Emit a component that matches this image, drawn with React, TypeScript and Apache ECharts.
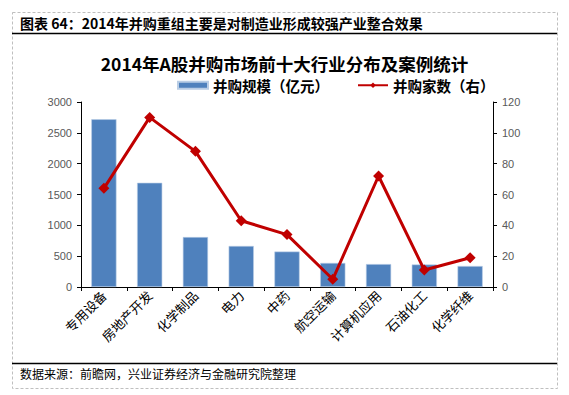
import React, { useEffect, useRef } from "react";
import * as echarts from "echarts";

const categories = ["专用设备", "房地产开发", "化学制品", "电力", "中药", "航空运输", "计算机应用", "石油化工", "化学纤维"];
const scaleValues = [2720, 1690, 810, 665, 575, 390, 372, 365, 340];
const countValues = [64, 110, 88, 43, 34, 5, 72, 11, 19];
const leftTicks = [0, 500, 1000, 1500, 2000, 2500, 3000];
const rightTicks = [0, 20, 40, 60, 80, 100, 120];

const headerText = "图表 64：2014年并购重组主要是对制造业形成较强产业整合效果";
const chartTitle = "2014年A股并购市场前十大行业分布及案例统计";
const footerText = "数据来源：前瞻网，兴业证券经济与金融研究院整理";
const barName = "并购规模（亿元）";
const lineName = "并购家数（右）";

export default function App() {
  const ref = useRef<HTMLDivElement>(null);
  useEffect(() => {
    if (!ref.current) return;
    const chart = echarts.init(ref.current, null, { renderer: "svg" });
    const font = "'Noto Sans CJK SC', sans-serif";
    const numFont = "'Liberation Sans', sans-serif";
    chart.setOption({
      animation: false,
      backgroundColor: "#fff",
      textStyle: { fontFamily: font },
      title: {
        text: chartTitle,
        left: "center",
        top: 50,
        textStyle: { fontSize: 17.5, fontWeight: "bold", color: "#000", fontFamily: font },
      },
      legend: {
        top: 73,
        left: 172,
        itemGap: 28,
        itemWidth: 30,
        itemHeight: 7,
        textStyle: { fontSize: 14.5, color: "#000", fontWeight: "bold", fontFamily: font },
        data: [
          { name: barName, icon: "rect" },
          { name: lineName },
        ],
      },
      grid: { left: 81, right: 76, top: 102, bottom: 108, containLabel: false },
      xAxis: {
        type: "category",
        data: categories,
        axisLine: { lineStyle: { color: "#000", width: 1 } },
        axisTick: { show: true, alignWithLabel: false, lineStyle: { color: "#000" }, length: 4 },
        axisLabel: { rotate: 45, fontSize: 13, color: "#000", margin: 6, interval: 0 },
      },
      yAxis: [
        {
          type: "value",
          min: leftTicks[0],
          max: leftTicks[leftTicks.length - 1],
          interval: 500,
          axisLine: { show: true, lineStyle: { color: "#000" } },
          axisTick: { show: true, lineStyle: { color: "#000" }, length: 4 },
          splitLine: { show: false },
          axisLabel: { fontSize: 11, color: "#595959", margin: 9, fontFamily: numFont, formatter: (v: number) => String(v) },
        },
        {
          type: "value",
          min: rightTicks[0],
          max: rightTicks[rightTicks.length - 1],
          interval: 20,
          axisLine: { show: true, lineStyle: { color: "#000" } },
          axisTick: { show: true, lineStyle: { color: "#000" }, length: 4 },
          splitLine: { show: false },
          axisLabel: { fontSize: 11, color: "#595959", margin: 9, fontFamily: numFont, formatter: (v: number) => String(v) },
        },
      ],
      series: [
        {
          name: barName,
          type: "bar",
          data: scaleValues,
          barWidth: "55%",
          itemStyle: { color: "#4F81BD", borderColor: "#B9CDE5", borderWidth: 0.6 },
        },
        {
          name: lineName,
          type: "line",
          yAxisIndex: 1,
          data: countValues,
          symbol: "diamond",
          symbolSize: 11,
          lineStyle: { color: "#C00000", width: 3 },
          itemStyle: { color: "#C00000" },
        },
      ],
      graphic: [
        {
          type: "rect",
          shape: { x: 12.5, y: 12.5, width: 545, height: 376 },
          style: { fill: "none", stroke: "#BFBFBF", lineWidth: 1, lineDash: [3, 2] },
          silent: true,
        },
        {
          type: "text",
          left: 20,
          top: 16,
          style: { text: headerText, fontSize: 14, fontWeight: "bold", fill: "#000", fontFamily: font },
        },
        {
          type: "line",
          shape: { x1: 12, y1: 33.5, x2: 557, y2: 33.5 },
          style: { stroke: "#000", lineWidth: 1.5 },
        },
        {
          type: "line",
          shape: { x1: 12, y1: 363.5, x2: 557, y2: 363.5 },
          style: { stroke: "#000", lineWidth: 1.5 },
        },
        {
          type: "text",
          left: 20,
          top: 367,
          style: { text: footerText, fontSize: 12, fill: "#000", fontFamily: font },
        },
      ],
    });
    return () => chart.dispose();
  }, []);
  return (
    <div
      ref={ref}
      style={{ position: "absolute", left: 0, top: 0, width: 569, height: 395 }}
    />
  );
}
